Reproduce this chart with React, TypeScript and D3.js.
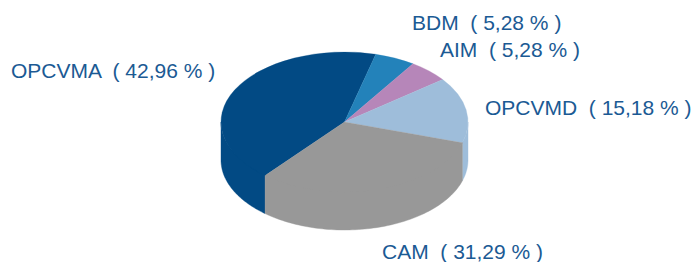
import React from "react";
import * as d3 from "d3";

const labels = ["OPCVMA", "BDM", "AIM", "OPCVMD", "CAM"];
const values = [42.96, 5.28, 5.28, 15.18, 31.29];
const valueTexts = ["42,96", "5,28", "5,28", "15,18", "31,29"];
const colors = ["#024A84", "#2382BA", "#B686B9", "#9EBDDA", "#989898"];
// label anchor (left x, baseline y)
const labelPos: [number, number][] = [
  [11, 78],
  [412, 30],
  [440, 57],
  [485, 115],
  [382, 259],
];

const W = 691;
const H = 262;
const cx = 344.5;
const cy = 122;
const rx = 123.5;
const ry = 70;
const depth = 38;
const startDeg = 220;

export default function App() {
  const start = (startDeg * Math.PI) / 180;
  const pie = d3
    .pie<number>()
    .sort(null)
    .value((d) => d)
    .startAngle(start)
    .endAngle(start + 2 * Math.PI);
  const arcs = pie(values);
  const arcGen = d3.arc<d3.PieArcDatum<number>>().innerRadius(0).outerRadius(rx);

  const pt = (a: number, dy: number, shrinkY: number) => [
    cx + rx * Math.sin(a),
    cy - (ry - shrinkY) * Math.cos(a) + dy,
  ];

  const sidePath = (a0: number, a1: number) => {
    const segs: [number, number][] = [];
    for (const k of [-1, 0, 1]) {
      const lo = Math.max(a0, Math.PI / 2 + k * 2 * Math.PI);
      const hi = Math.min(a1, (3 * Math.PI) / 2 + k * 2 * Math.PI);
      if (hi > lo) segs.push([lo, hi]);
    }
    return segs
      .map(([lo, hi]) => {
        const n = 80;
        const top = d3.range(n + 1).map((i) => pt(lo + ((hi - lo) * i) / n, 0, 2.5));
        const bot = d3.range(n + 1).map((i) => pt(hi - ((hi - lo) * i) / n, depth, 0));
        return "M" + top.concat(bot).map((p) => p[0].toFixed(2) + "," + p[1].toFixed(2)).join("L") + "Z";
      })
      .join(" ");
  };

  return (
    <svg width={W} height={H} style={{ position: "absolute", left: 0, top: 0 }}>
      <rect width={W} height={H} fill="#ffffff" />
      {arcs.map((a, i) => (
        <path key={"s" + i} d={sidePath(a.startAngle, a.endAngle)} fill={colors[i]} stroke={colors[i]} strokeWidth={0.4} />
      ))}
      <g transform={`translate(${cx},${cy}) scale(1,${ry / rx})`}>
        {arcs.map((a, i) => (
          <path key={"t" + i} d={arcGen(a) || ""} fill={colors[i]} stroke={colors[i]} strokeWidth={0.4} />
        ))}
      </g>
      {labels.map((l, i) => (
        <text
          key={"l" + i}
          x={labelPos[i][0]}
          y={labelPos[i][1]}
          fontFamily="'Liberation Sans', Arial, sans-serif"
          fontSize={21}
          fill="#1B5A94"
          style={{ whiteSpace: "pre" }}
        >
          {`${l}  ( ${valueTexts[i]} % )`}
        </text>
      ))}
    </svg>
  );
}
